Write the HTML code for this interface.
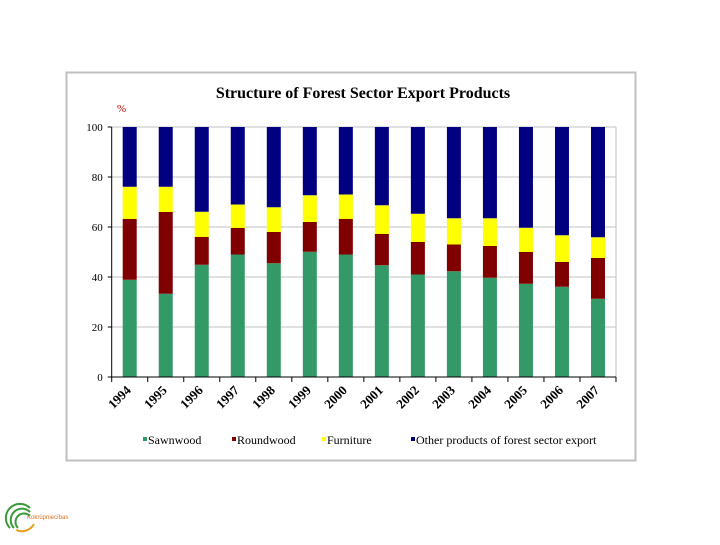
<!DOCTYPE html>
<html><head><meta charset="utf-8"><style>
body{margin:0;background:#fff;width:720px;height:540px;overflow:hidden;font-family:"Liberation Serif",serif}
</style></head><body>
<svg width="720" height="540" xmlns="http://www.w3.org/2000/svg">
<rect x="66.5" y="72.5" width="569" height="388" fill="#fff" stroke="#c0c0c0" stroke-width="2"/>
<text x="363" y="98" text-anchor="middle" font-family="Liberation Serif" font-weight="bold" font-size="16">Structure of Forest Sector Export Products</text>
<text x="117" y="112" font-family="Liberation Serif" font-size="11" fill="#c00000">%</text>
<g id="plot"></g>
<g>
<path d="M10 528 A14 14 0 0 1 30 508" fill="none" stroke="#3a9a3a" stroke-width="2"/>
<path d="M14 528 A10 10 0 0 1 30 512" fill="none" stroke="#3a9a3a" stroke-width="2"/>
<path d="M18 528 A6 6 0 0 1 30 516" fill="none" stroke="#3a9a3a" stroke-width="2"/>
<path d="M16 530 A14 14 0 0 0 34 524" fill="none" stroke="#e8a020" stroke-width="2"/>
<text x="27" y="519" font-family="Liberation Sans" font-size="6" fill="#e07020">Kokrūpniecības</text>
</g>
</svg>
<script>
const years=['1994','1995','1996','1997','1998','1999','2000','2001','2002','2003','2004','2005','2006','2007'];
const sawnwood=[38.9,33.3,44.9,49,45.5,50.1,49,44.7,41,42.3,39.7,37.3,36.1,31.3];
const roundwood=[24.3,32.7,11.1,10.6,12.5,11.9,14.2,12.5,13,10.7,12.7,12.7,9.9,16.3];
const furniture=[12.9,10.1,10.1,9.4,9.9,10.7,9.8,11.5,11.3,10.5,11.1,9.7,10.7,8.3];
const other=[23.9,23.9,33.9,31,32.1,27.3,27,31.3,34.7,36.5,36.5,40.3,43.3,44.1];
const yTicks=[0,20,40,60,80,100];
const series=[[sawnwood,'#339966','Sawnwood','sawnwood'],[roundwood,'#800000','Roundwood','roundwood'],[furniture,'#ffff00','Furniture','furniture'],[other,'#000080','Other products of forest sector export','other']];
const NS='http://www.w3.org/2000/svg';
const g=document.getElementById('plot');
const L=111.7,R=616,T=127,B=377;
const y=v=>B-(v/100)*(B-T);
const cw=(R-L)/years.length;
const x=i=>L+cw*(i+0.5);
function mk(t,a,p){const e=document.createElementNS(NS,t);for(const k in a)e.setAttribute(k,a[k]);(p||g).appendChild(e);return e;}
yTicks.forEach(v=>{
 if(v>0){const l=mk('line',{x1:L,x2:R,y1:y(v),y2:y(v),stroke:'#c0c0c0','stroke-width':1});
 
 }
 const t=mk('text',{x:L-9,y:y(v)+4,'text-anchor':'end','font-size':11,'font-family':'Liberation Serif'});
 t.textContent=v;
 
 
 mk('line',{x1:L-4,x2:L,y1:y(v),y2:y(v),stroke:'#000'});
});
mk('line',{x1:R,x2:R,y1:T,y2:B,stroke:'#c0c0c0'});
mk('line',{x1:L,x2:R,y1:T,y2:T,stroke:'#c0c0c0'});
years.forEach((yr,i)=>{
 let acc=0;
 series.forEach(s=>{
  const v=s[0][i];
  const r=mk('rect',{x:x(i)-7,width:14,y:y(acc+v),height:y(acc)-y(acc+v),fill:s[1]});
  
  
  acc+=v;
 });
 mk('line',{x1:L+cw*(i+1),x2:L+cw*(i+1),y1:B,y2:B+5,stroke:'#000'});
 const ax=x(i)+2, ay=B+14;
 const t=mk('text',{x:ax,y:ay,'text-anchor':'end','font-size':13,'font-weight':'bold','font-family':'Liberation Serif',transform:`rotate(-45 ${ax} ${ay})`});
 t.textContent=yr;
 
 
});
mk('line',{x1:L,x2:L,y1:T,y2:B+5,stroke:'#000'});
mk('line',{x1:L,x2:R,y1:B,y2:B,stroke:'#000'});
const lx=[143,232,322,411];
series.forEach((s,i)=>{
 const r=mk('rect',{x:lx[i],y:437,width:4,height:4,fill:s[1]});
 
 
 const t=mk('text',{x:lx[i]+5,y:444,'font-size':12,'font-family':'Liberation Serif'});
 t.textContent=s[2];
 
 
});
</script>
</body></html>
